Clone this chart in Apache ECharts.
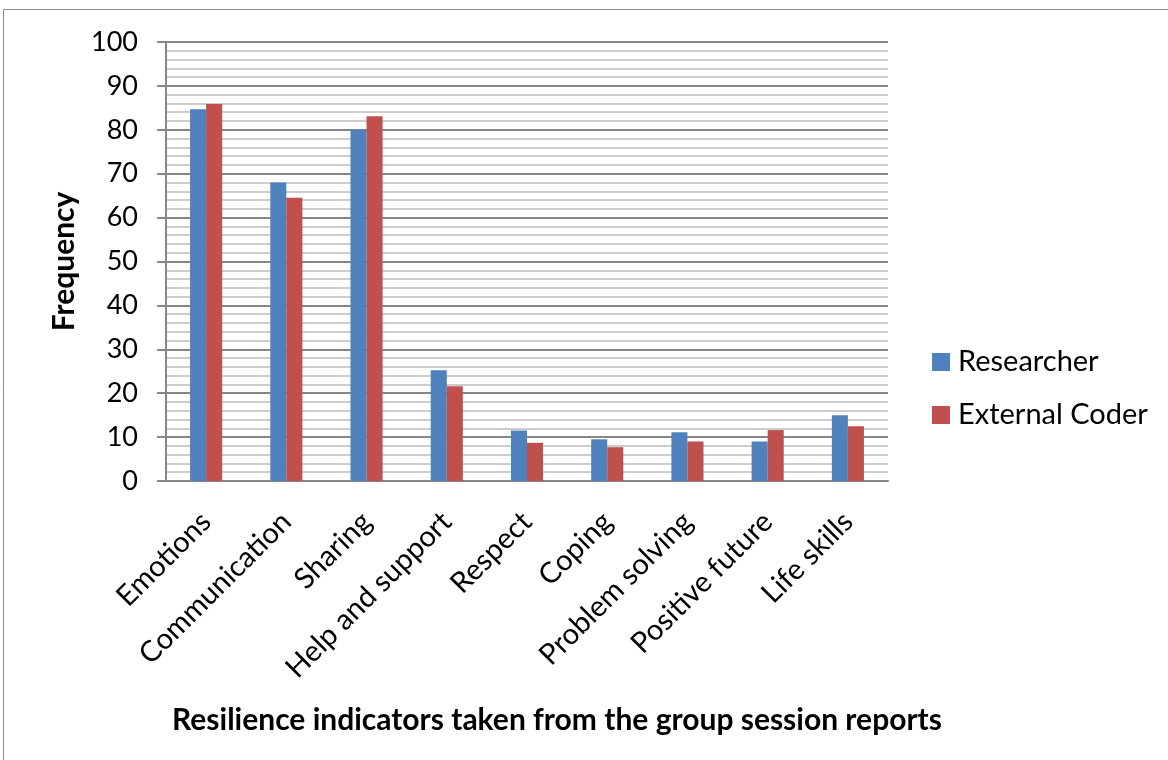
<!DOCTYPE html>
<html>
<head>
<meta charset="utf-8">
<script src="https://cdn.jsdelivr.net/npm/echarts@6/dist/echarts.min.js"></script>
<style>
html,body{margin:0;padding:0;background:#fff;}
#chart{width:1168px;height:760px;}
</style>
</head>
<body>
<div id="chart"></div>
<script>
const categories = ["Emotions","Communication","Sharing","Help and support","Respect","Coping","Problem solving","Positive future","Life skills"];
const researcher = [84.7, 68.0, 80.0, 25.2, 11.5, 9.5, 11.1, 9.0, 15.0];
const externalCoder = [85.9, 64.5, 83.1, 21.6, 8.7, 7.7, 9.0, 11.6, 12.5];
const seriesNames = ["Researcher","External Coder"];
const yTicks = {min: 0, max: 100, interval: 10};
const xTitle = "Resilience indicators taken from the group session reports";
const yTitle = "Frequency";

const font = "Lato, 'Open Sans', sans-serif";
const chart = echarts.init(document.getElementById('chart'), null, {renderer: 'canvas'});
chart.setOption({
  animation: false,
  backgroundColor: '#fff',
  textStyle: {fontFamily: font, color: '#000'},
  graphic: [{
    type: 'polyline',
    shape: {points: [[3.5, 760], [3.5, 9.5], [1168, 9.5]]},
    style: {stroke: '#8c8c8c', lineWidth: 1, fill: null},
    silent: true
  }],
  grid: {left: 166, right: 280, top: 42, bottom: 279, containLabel: false},
  legend: {
    orient: 'vertical',
    left: 927,
    top: 342,
    itemWidth: 18,
    itemHeight: 18,
    itemGap: 23,
    icon: 'rect',
    textStyle: {fontFamily: font, fontSize: 29, color: '#000', lineHeight: 30, padding: [0, 0, 0, 3]},
    data: seriesNames
  },
  xAxis: {
    type: 'category',
    data: categories,
    name: xTitle,
    nameLocation: 'middle',
    nameGap: 224,
    nameTextStyle: {fontFamily: font, fontSize: 30, fontWeight: 'bold', color: '#000', padding: [0, 0, 0, 60]},
    axisLine: {show: true, lineStyle: {color: '#868686', width: 2}},
    axisTick: {show: false},
    axisLabel: {rotate: 45, fontSize: 29, color: '#000', margin: 36, interval: 0, fontFamily: font},
    splitLine: {show: false}
  },
  yAxis: {
    type: 'value',
    min: yTicks.min,
    max: yTicks.max,
    interval: yTicks.interval,
    name: yTitle,
    nameLocation: 'middle',
    nameGap: 87,
    nameTextStyle: {fontFamily: font, fontSize: 30, fontWeight: 'bold', color: '#000'},
    axisLine: {show: true, lineStyle: {color: '#868686', width: 2}},
    axisTick: {show: true, length: 9, inside: false, lineStyle: {color: '#868686', width: 2}},
    axisLabel: {fontSize: 27, color: '#000', margin: 28, fontFamily: font},
    splitLine: {show: true, lineStyle: {color: '#868686', width: 2}},
    minorTick: {show: false, splitNumber: 5},
    minorSplitLine: {show: true, lineStyle: {color: '#bdbdbd', width: 1.5}}
  },
  series: [
    {name: seriesNames[0], type: 'bar', data: researcher, barGap: '0%', barCategoryGap: '60%', itemStyle: {color: '#4F81BD'}},
    {name: seriesNames[1], type: 'bar', data: externalCoder, barGap: '0%', barCategoryGap: '60%', itemStyle: {color: '#C0504D'}}
  ]
});
</script>
</body>
</html>
